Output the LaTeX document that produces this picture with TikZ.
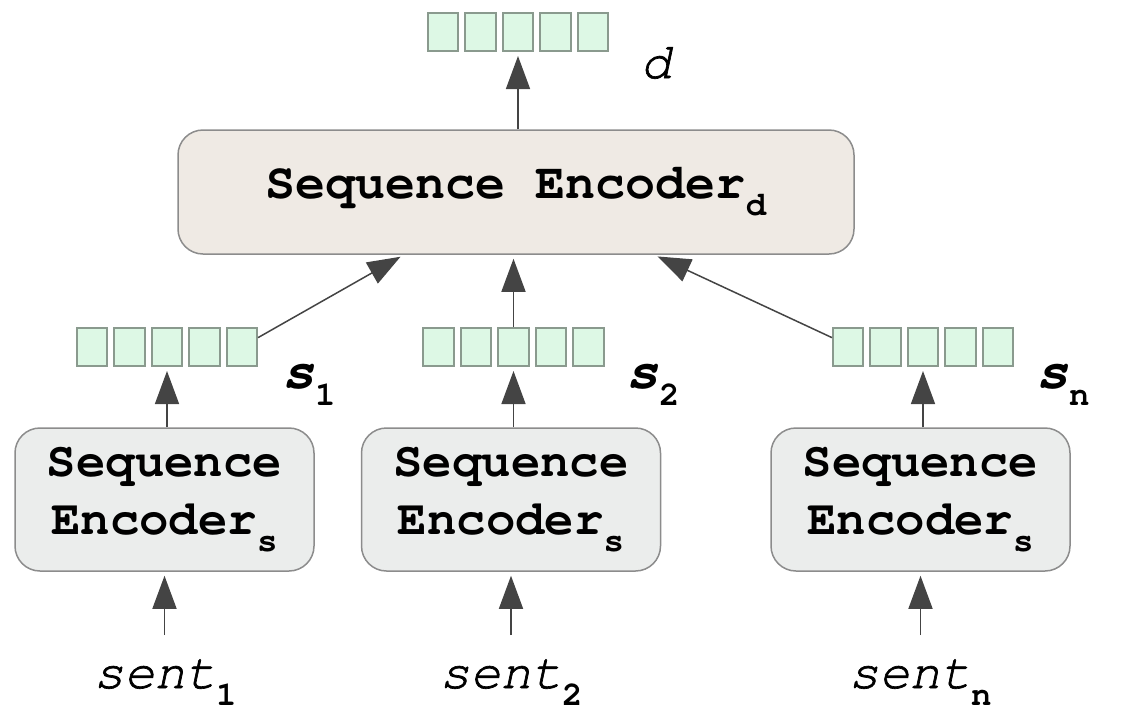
\documentclass[tikz,border=0pt]{standalone}
\usepackage{fontspec}
\setmonofont{TeX Gyre Cursor}
\newfontfamily\wordfont{TeX Gyre Cursor}[ItalicFeatures={FakeBold=1.3}]
\usetikzlibrary{arrows.meta}

\definecolor{cellfill}{HTML}{DDF8E5}
\definecolor{cellline}{HTML}{8A9A8E}
\definecolor{docfill}{HTML}{EFEAE4}
\definecolor{sentfill}{HTML}{EBEDEC}
\definecolor{boxline}{HTML}{8C8C8C}
\definecolor{arrowcol}{HTML}{444444}

\newcommand{\sub}[1]{\raisebox{-17pt}{\fontsize{34}{34}\selectfont\ttfamily\bfseries\upshape #1}}

\begin{document}
\begin{tikzpicture}[x=1pt, y=-1pt,
    encbox/.style = {draw=boxline, line width=1.5pt, rounded corners=25pt, inner sep=0pt,
                     font=\fontsize{49}{58}\selectfont\ttfamily\bfseries, align=center},
    cell/.style = {draw=cellline, fill=cellfill, line width=2pt, minimum width=30.5pt,
                   minimum height=38pt, inner sep=0pt},
    word/.style = {inner sep=0pt, font=\fontsize{51}{51}\selectfont\wordfont\itshape},
    vec/.style = {inner sep=0pt, font=\fontsize{54}{54}\selectfont\ttfamily\bfseries\itshape},
    arr/.style = {draw=arrowcol, line width=1.5pt, -{Triangle[width=24pt,length=33pt]}, shorten >=4pt}
  ]
    \useasboundingbox (0,0) rectangle (1122,716);

    % Document encoder on top, one sentence encoder per sentence below
    \node [encbox, fill=docfill, minimum width=676pt, minimum height=124pt,
           font=\fontsize{50}{58}\selectfont\ttfamily\bfseries] (encd) at (516,192) {Sequence Encoder\sub{d}};
    \foreach \n/\x in {1/164.5, 2/511, n/920.5} {
        \node [encbox, fill=sentfill, minimum width=299pt, minimum height=143pt] (enc\n) at (\x,499.5) {Sequence\\Encoder\sub{s}};
    }

    % Vectors of five cells (d on top, s_1, s_2, s_n in the middle row)
    \foreach \v/\cx/\cy in {d/518/32, 1/167/347, 2/513.5/347, n/923/347} {
        \foreach \i in {1,...,5} {
            \node [cell] (v\v\i) at ({\cx+(\i-3)*37.4},\cy) {};
        }
    }

    % Sentences feed the sentence encoders, which give the vectors
    \foreach \n/\x in {1/165, 2/511, n/920} {
        \node [word, anchor=base] (sent\n) at (\x,688) {sent\sub{\n}};
        \draw [arr, shorten <=24pt] (enc\n.south |- sent\n.north) -- (enc\n.south);
        \draw [arr] (v\n3.south |- enc\n.north) -- (v\n3.south);
    }

    % Sentence vectors go into the document encoder
    \draw [arr] (v15.30) -- ([xshift=-112pt]encd.south);
    \draw [arr] (v23.north) -- (v23.north |- encd.south);
    \draw [arr] (vn1.150) -- ([xshift=138pt]encd.south);
    \draw [arr] (vd3.south |- encd.north) -- (vd3.south);

    % Labels of the vectors
    \node [vec, anchor=base] (lab1) at (309,388) {s\sub{1}};
    \node [vec, anchor=base] (lab2) at (653,388) {s\sub{2}};
    \node [vec, anchor=base] (labn) at (1063,388) {s\sub{n}};
    \node [word, anchor=base] (labd) at (656,78) {d};
\end{tikzpicture}
\end{document}
